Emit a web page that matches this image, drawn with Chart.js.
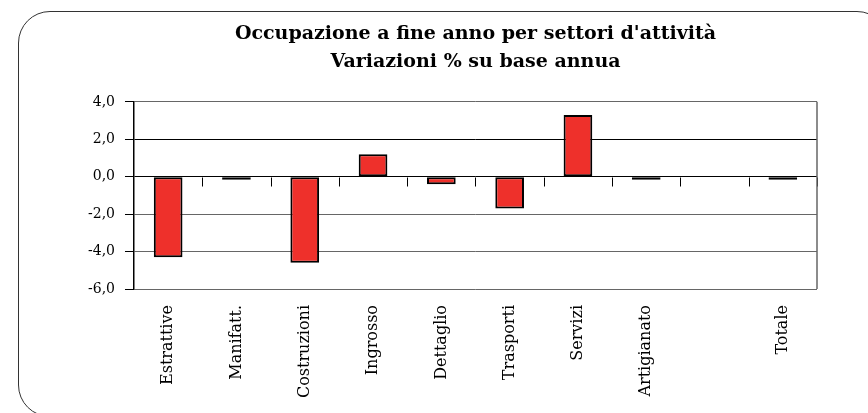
<!DOCTYPE html>
<html>
<head>
<meta charset="utf-8">
<script src="https://cdn.jsdelivr.net/npm/chart.js@4/dist/chart.umd.min.js"></script>
<style>
  html, body { margin: 0; padding: 0; background: #fff; }
  body { width: 868px; height: 413px; position: relative; overflow: hidden; }
  #frame { position: absolute; left: 18px; top: 11px; width: 871px; height: 406px;
           border: 1.5px solid #333; border-radius: 32px; box-sizing: border-box; }
  #c { position: absolute; left: 0; top: 0; }
</style>
</head>
<body>
<div id="frame"></div>
<canvas id="c" width="868" height="413"></canvas>
<script>
const titleLines = ["Occupazione a fine anno per settori d'attività", "Variazioni % su base annua"];
const categories = ['Estrattive', 'Manifatt.', 'Costruzioni', 'Ingrosso', 'Dettaglio', 'Trasporti', 'Servizi', 'Artigianato', '', 'Totale'];
const changes = [-4.3, -0.1, -4.6, 1.2, -0.4, -1.7, 3.3, -0.1, null, -0.1];
const yTicks = [-6, -4, -2, 0, 2, 4];

const zeroTicks = {
  id: 'zeroTicks',
  beforeDatasetsDraw(chart) {
    const x = chart.scales.x, y = chart.scales.y, ctx = chart.ctx;
    const y0 = Math.round(y.getPixelForValue(0)) + 0.5;
    const half = (x.getPixelForValue(1) - x.getPixelForValue(0)) / 2;
    ctx.save();
    ctx.strokeStyle = '#000';
    ctx.lineWidth = 1;
    ctx.beginPath();
    for (let i = 0; i < categories.length; i++) {
      const px = Math.round(x.getPixelForValue(i) + half) + 0.5;
      ctx.moveTo(px, y0);
      ctx.lineTo(px, y0 + 9);
    }
    ctx.stroke();
    const ca = chart.chartArea;
    ctx.strokeStyle = '#666';
    ctx.lineWidth = 1.5;
    ctx.beginPath();
    ctx.moveTo(ca.right, ca.top);
    ctx.lineTo(ca.right, ca.bottom);
    ctx.stroke();
    ctx.restore();
  }
};

new Chart(document.getElementById('c'), {
  type: 'bar',
  data: {
    labels: categories,
    datasets: [{
      data: changes,
      backgroundColor: '#EE302B',
      borderColor: '#000',
      borderWidth: 2,
      borderSkipped: false,
      minBarLength: 3,
      barPercentage: 0.42,
      categoryPercentage: 1
    }]
  },
  options: {
    responsive: false,
    animation: false,
    layout: { padding: { left: 78, right: 51, top: 20, bottom: 0 } },
    plugins: {
      legend: { display: false },
      tooltip: { enabled: false },
      title: {
        display: true,
        fullSize: false,
        text: titleLines,
        color: '#000',
        font: { family: 'DejaVu Serif', size: 19, weight: 'bold', lineHeight: 1.47 },
        padding: { top: 0, bottom: 26 }
      }
    },
    scales: {
      x: {
        grid: { display: false },
        border: { display: false },
        afterFit(scale) { scale.height = 124; },
        ticks: {
          color: '#000',
          font: { family: 'DejaVu Serif', size: 16 },
          minRotation: 90, maxRotation: 90,
          padding: 8,
          autoSkip: false
        }
      },
      y: {
        min: -6, max: 4,
        afterBuildTicks(scale) { scale.ticks = yTicks.map(v => ({ value: v })); },
        border: { display: true, color: '#000', width: 1.5 },
        grid: {
          color: ctx => {
            const v = ctx.tick && ctx.tick.value;
            if (v === 0 || v === 2) return '#000';
            return '#666';
          },
          lineWidth: 1,
          tickLength: 9,
          tickColor: '#000'
        },
        ticks: {
          color: '#000',
          font: { family: 'DejaVu Serif', size: 14 },
          padding: 10,
          callback: v => v.toFixed(1).replace('.', ',')
        }
      }
    }
  },
  plugins: [zeroTicks]
});
</script>
</body>
</html>
